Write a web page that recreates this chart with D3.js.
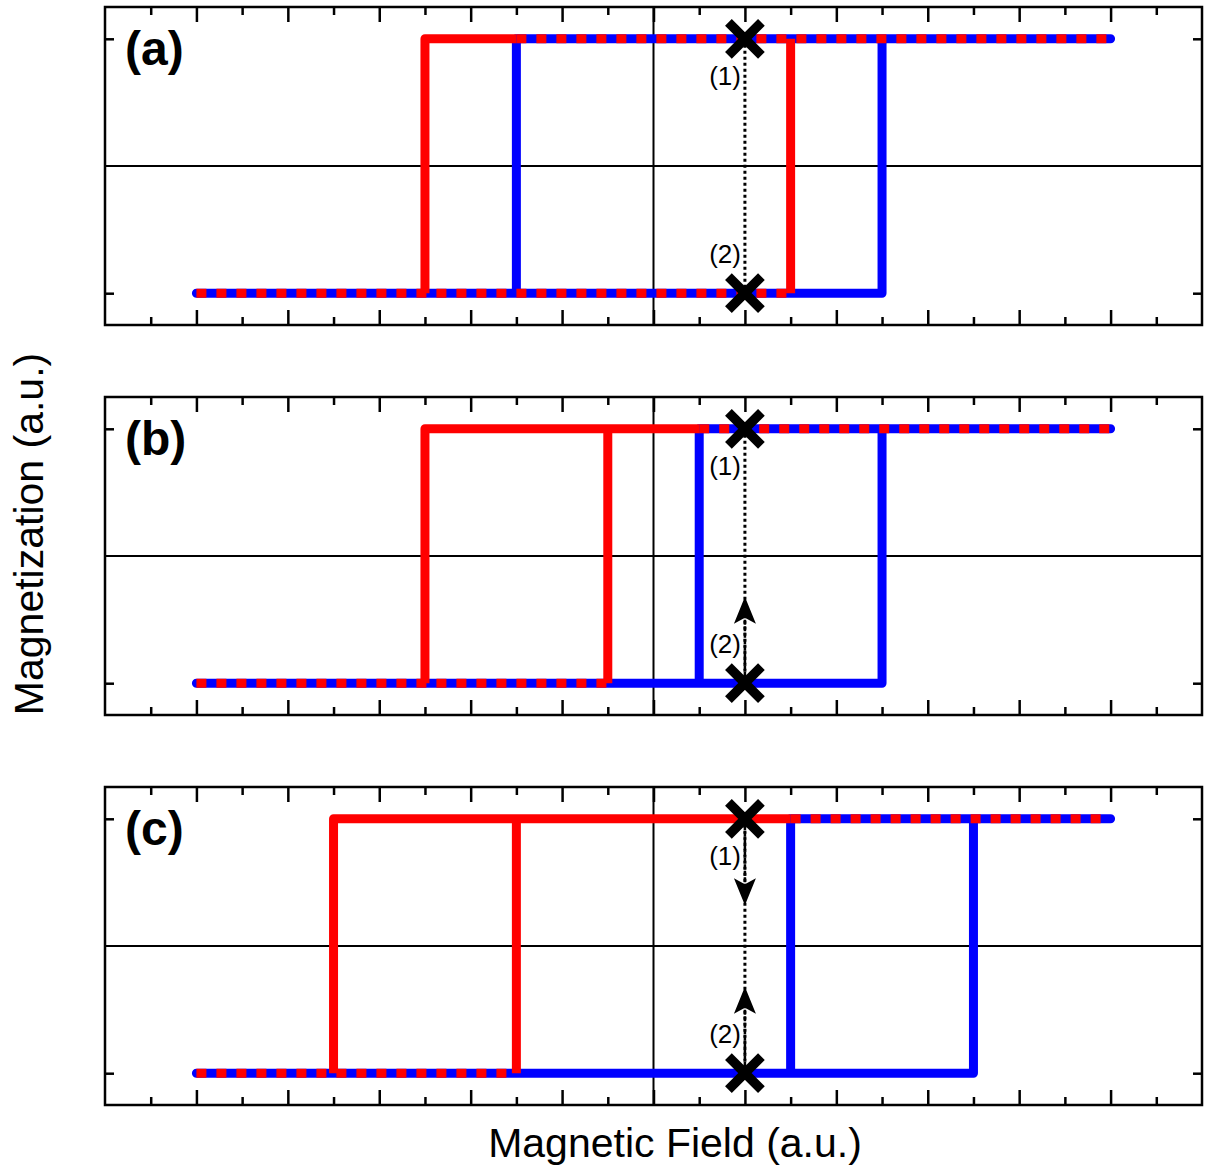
<!DOCTYPE html>
<html>
<head>
<meta charset="utf-8">
<script src="https://cdn.jsdelivr.net/npm/d3@7/dist/d3.min.js"></script>
<style>
  html, body { margin: 0; padding: 0; background: #fff; }
  svg { display: block; }
  text { font-family: "Liberation Sans", Arial, sans-serif; }
</style>
</head>
<body>
<svg id="chart" width="1207" height="1175"></svg>
<script>
// Three hysteresis panels: switching fields of the red and blue loops.
const panelLabels = ["(a)", "(b)", "(c)"];
const fieldRange = [-5, 5];            // field span of each loop
const redLeftSwitch  = [-2.5, -2.5, -3.5];
const redRightSwitch = [ 1.5, -0.5, -1.5];
const blueLeftSwitch  = [-1.5, 0.5, 1.5];
const blueRightSwitch = [ 2.5, 2.5, 3.5];
const saturation = [-1, 1];            // magnetization levels
const probeField = 1;                  // field of the two marked states
const arrowUp   = [false, true, true];
const arrowDown = [false, false, true];
const arrowTip = 0.32;                 // |M| where the arrow heads point
const majorTicks = [-5, -4, -3, -2, -1, 0, 1, 2, 3, 4, 5];
const minorTicks = [-5.5, -4.5, -3.5, -2.5, -1.5, -0.5, 0.5, 1.5, 2.5, 3.5, 4.5, 5.5];
const yTicks = [-1, 1];

const RED = "#ff0000", BLUE = "#0000ff";
const svg = d3.select("#chart");
const left = 105, right = 1202;
const panelTops = [7, 397, 787];
const panelHeight = 318;
const x = d3.scaleLinear().domain([-6, 6]).range([left, right]);
const lw = 9;

panelLabels.forEach((label, i) => {
  const top = panelTops[i], bottom = top + panelHeight;
  const y = d3.scaleLinear().domain([-1.25, 1.25]).range([bottom, top]);
  const g = svg.append("g");
  const [lo, hi] = saturation;

  // zero lines
  g.append("line").attr("x1", left).attr("x2", right)
    .attr("y1", y(0)).attr("y2", y(0)).attr("stroke", "#000").attr("stroke-width", 2);
  g.append("line").attr("x1", x(0)).attr("x2", x(0))
    .attr("y1", top).attr("y2", bottom).attr("stroke", "#000").attr("stroke-width", 2);

  // axes with inward ticks on all sides
  const addAxis = (axisFn, values, size, transform) => {
    g.append("g").attr("transform", transform)
      .call(axisFn.tickValues(values).tickSize(size).tickFormat(""))
      .call(s => { s.select(".domain").remove();
                   s.selectAll(".tick line").attr("stroke-width", 2.5); });
  };
  addAxis(d3.axisBottom(x), majorTicks, -15, `translate(0,${bottom})`);
  addAxis(d3.axisBottom(x), minorTicks, -8, `translate(0,${bottom})`);
  addAxis(d3.axisTop(x), majorTicks, -15, `translate(0,${top})`);
  addAxis(d3.axisTop(x), minorTicks, -8, `translate(0,${top})`);
  addAxis(d3.axisLeft(y), yTicks, -9, `translate(${left},0)`);
  addAxis(d3.axisRight(y), yTicks, -9, `translate(${right},0)`);

  const line = d3.line().x(d => x(d[0])).y(d => y(d[1]));
  const rl = redLeftSwitch[i], rr = redRightSwitch[i];
  const bl = blueLeftSwitch[i], br = blueRightSwitch[i];
  const [fmin, fmax] = fieldRange;

  // blue loop (solid)
  g.append("path")
    .attr("d", line([[fmin, lo], [br, lo], [br, hi], [bl, hi], [bl, lo]]) +
               line([[br, hi], [fmax, hi]]))
    .attr("fill", "none").attr("stroke", BLUE).attr("stroke-width", lw)
    .attr("stroke-linecap", "round").attr("stroke-linejoin", "round");

  // red loop: solid where only red runs, dashed where it shares the blue branch
  const redSolid = [];
  redSolid.push([[rr, lo], [rr, hi]]);
  if (rr > br) redSolid.push([[br, lo], [rr, lo]]);
  const redShared = [
    [[fmin, lo], [Math.min(rr, br), lo]],
    [[Math.max(rl, bl), hi], [fmax, hi]]
  ];
  g.selectAll(null).data(redSolid).join("path")
    .attr("d", line).attr("fill", "none").attr("stroke", RED)
    .attr("stroke-width", lw).attr("stroke-linejoin", "round");
  // left red switch with its red-only upper stretch
  g.append("path").attr("d", line([[rl, lo], [rl, hi], [Math.max(rl, Math.min(bl, fmax)), hi]]))
    .attr("fill", "none").attr("stroke", RED).attr("stroke-width", lw)
    .attr("stroke-linejoin", "round");
  g.selectAll(null).data(redShared).join("path")
    .attr("d", line).attr("fill", "none").attr("stroke", RED)
    .attr("stroke-width", lw).attr("stroke-dasharray", "10,10");

  // dotted path between the two marked states
  const px = x(probeField);
  g.append("line").attr("x1", px).attr("x2", px)
    .attr("y1", y(hi)).attr("y2", y(lo))
    .attr("stroke", "#000").attr("stroke-width", 3).attr("stroke-dasharray", "3,3");

  const arrow = (fromM, tipM) => {
    const dir = tipM > fromM ? -1 : 1;  // screen direction of travel
    const tipY = y(tipM);
    const baseY = tipY - dir * 20;
    g.append("line").attr("x1", px).attr("x2", px)
      .attr("y1", y(fromM)).attr("y2", baseY)
      .attr("stroke", "#000").attr("stroke-width", 2.5).attr("stroke-dasharray", "5,1.5");
    g.append("path")
      .attr("d", `M${px},${tipY} L${px - 11},${tipY - dir * 27} L${px},${tipY - dir * 21} L${px + 11},${tipY - dir * 27} Z`)
      .attr("fill", "#000");
  };
  if (arrowUp[i]) arrow(lo, -arrowTip);
  if (arrowDown[i]) arrow(hi, arrowTip);

  // state markers
  [hi, lo].forEach(m => {
    const cy = y(m), s = 16.5;
    g.append("path")
      .attr("d", `M${px - s},${cy - s} L${px + s},${cy + s} M${px - s},${cy + s} L${px + s},${cy - s}`)
      .attr("stroke", "#000").attr("stroke-width", 9.5).attr("fill", "none");
  });

  g.append("text").attr("x", px - 4).attr("y", y(hi) + 46)
    .attr("text-anchor", "end").attr("font-size", 26).text("(1)");
  g.append("text").attr("x", px - 4).attr("y", y(lo) - 30)
    .attr("text-anchor", "end").attr("font-size", 26).text("(2)");

  // frame
  g.append("rect").attr("x", left).attr("y", top)
    .attr("width", right - left).attr("height", panelHeight)
    .attr("fill", "none").attr("stroke", "#000").attr("stroke-width", 2.5);

  g.append("text").attr("x", left + 20).attr("y", top + 58)
    .attr("font-size", 48).attr("font-weight", "bold").text(label);
});

svg.append("text").attr("x", 675).attr("y", 1157).attr("text-anchor", "middle")
  .attr("font-size", 41).text("Magnetic Field (a.u.)");
svg.append("text").attr("transform", "translate(43,534) rotate(-90)")
  .attr("text-anchor", "middle").attr("font-size", 41).text("Magnetization (a.u.)");
</script>
</body>
</html>
